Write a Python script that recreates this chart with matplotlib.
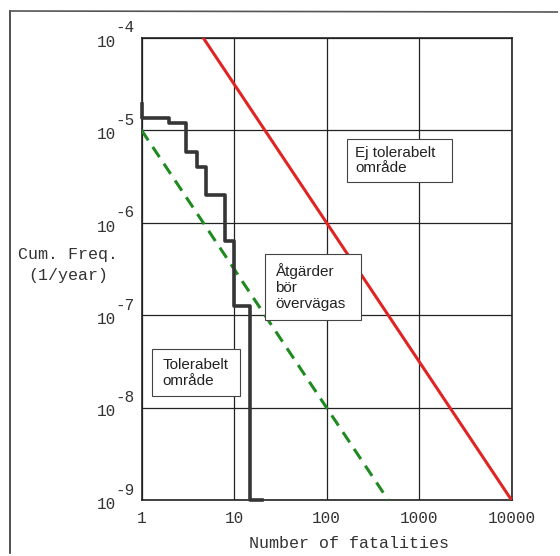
import matplotlib
matplotlib.use('Agg')
import matplotlib.pyplot as plt
from matplotlib.patches import Rectangle
from matplotlib.lines import Line2D

# step curve (cumulative frequency vs number of fatalities)
fn_n = [1, 1, 2, 3, 4, 5, 8, 10, 15, 20]
fn_f = [1.9e-5, 1.35e-5, 1.2e-5, 5.8e-6, 4.0e-6, 2.0e-6, 6.3e-7, 1.26e-7, 1e-9, 1e-9]

# upper limit (red) and lower limit (green dashed)
upper_n = [4.64, 10000]
upper_f = [1e-4, 1e-9]
lower_n = [1, 464]
lower_f = [1e-5, 1e-9]

x_ticks = [1, 10, 100, 1000, 10000]
x_labels = ['1', '10', '100', '1000', '10000']
y_exps = [-4, -5, -6, -7, -8, -9]

mono = 'Liberation Mono'
sans = 'Liberation Sans'
tcol = '#333333'

fig = plt.figure(figsize=(5.6, 5.56), dpi=100)
ax = fig.add_axes([141.5 / 560, 1 - 500 / 556, 370 / 560, 462.3 / 556])
ax.set_xscale('log')
ax.set_yscale('log')
ax.set_xlim(1, 10000)
ax.set_ylim(1e-9, 1e-4)

ax.grid(True, which='major', color='#222222', lw=0.9)
ax.minorticks_off()
for s in ax.spines.values():
    s.set_linewidth(1.2)
    s.set_color('#222222')

ax.set_xticks(x_ticks)
ax.set_xticklabels(x_labels, fontfamily=mono, fontsize=11.5, color=tcol)
ax.set_yticks([10.0 ** e for e in y_exps])
ax.set_yticklabels([])
ax.tick_params(length=0, pad=8)

# y tick labels as 10 with raised exponent
for e in y_exps:
    ax.annotate('10', xy=(0, 10.0 ** e), xycoords=('axes fraction', 'data'),
                xytext=(-18.5, -3.2), textcoords='offset points',
                ha='right', va='center', fontfamily=mono, fontsize=11.5, color=tcol)
    ax.annotate('-%d' % -e, xy=(0, 10.0 ** e), xycoords=('axes fraction', 'data'),
                xytext=(-18.5, 7), textcoords='offset points',
                ha='left', va='center', fontfamily=mono, fontsize=11.5, color=tcol)

ax.plot(upper_n, upper_f, color='#e02424', lw=2.2, solid_capstyle='butt', zorder=3)
ax.plot(lower_n, lower_f, color='#1f8a1f', lw=2.2, dashes=(4, 2.6), zorder=3)
ax.plot(fn_n, fn_f, color='#353535', lw=2.6, drawstyle='steps-post', clip_on=False, zorder=4)

ax.set_xlabel('Number of fatalities', fontfamily=mono, fontsize=12, color=tcol, va='center')
ax.xaxis.set_label_coords(0.561, -0.095)
ax.set_ylabel('Cum. Freq.\n(1/year)', fontfamily=mono, fontsize=12, color=tcol,
              rotation=0, ha='center', va='center', multialignment='center', linespacing=1.55)
ax.yaxis.set_label_coords(-0.1986, 0.508)

# region boxes
boxes = [
    ((0.5546, 0.6885), 0.2838, 0.0917, 0.577, 0.7345, 'Ej tolerabelt\nområde'),
    ((0.3338, 0.3894), 0.2586, 0.1427, 0.3608, 0.4607, 'Åtgärder\nbör\növervägas'),
    ((0.0276, 0.2250), 0.2386, 0.1010, 0.0562, 0.2754, 'Tolerabelt\nområde'),
]
for (x0, y0), w, h, tx, ty, txt in boxes:
    ax.add_patch(Rectangle((x0, y0), w, h, transform=ax.transAxes, facecolor='white',
                           edgecolor='#444444', lw=0.8, zorder=5))
    ax.text(tx, ty, txt, transform=ax.transAxes, ha='left', va='center', fontfamily=sans,
            fontsize=11, color='#222222', linespacing=1.15, zorder=6)

# outer frame of the scanned page
fig.add_artist(Line2D([10 / 560, 10 / 560], [1 - 11 / 556, 0.005], transform=fig.transFigure,
                      color='#333333', lw=1.2))
fig.add_artist(Line2D([10 / 560, 0.995], [1 - 11 / 556, 1 - 12 / 556], transform=fig.transFigure,
                      color='#555555', lw=1.2))

fig.savefig('out.png', dpi=100)
